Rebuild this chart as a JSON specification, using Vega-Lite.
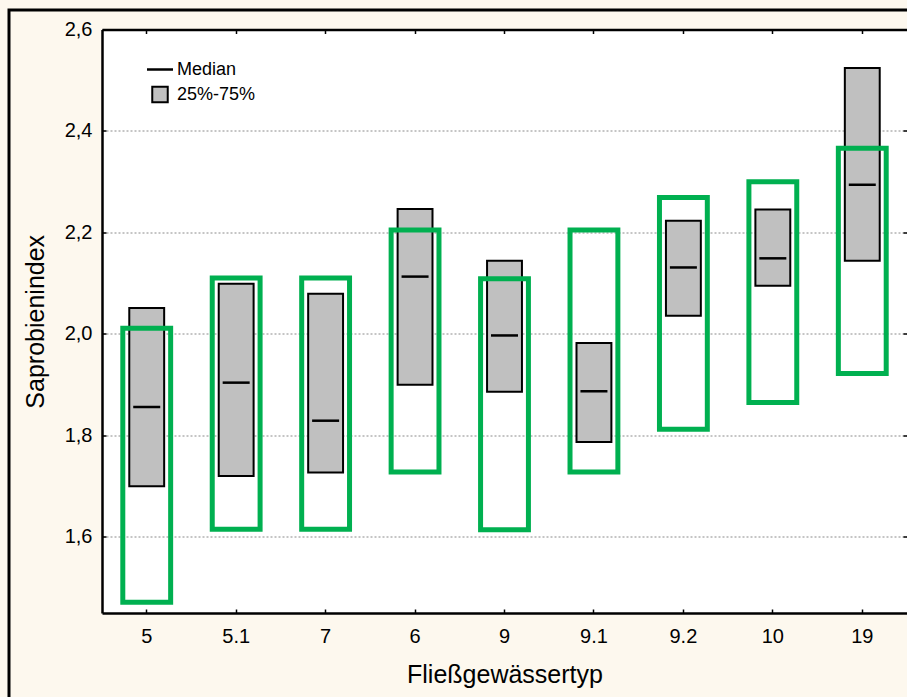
{
  "$schema": "https://vega.github.io/schema/vega-lite/v6.json",
  "width": 805,
  "height": 583.5,
  "autosize": "none",
  "padding": {"left": 102, "top": 29.5, "right": 0, "bottom": 84},
  "background": "#FDF8EE",
  "config": {
    "view": {"stroke": null, "fill": "white"},
    "font": "Liberation Sans",
    "legend": {"strokeWidth": 3},
    "axis": {
      "labelFont": "Liberation Sans",
      "labelFontSize": 20,
      "labelColor": "black",
      "titleFont": "Liberation Sans",
      "titleFontSize": 25,
      "titleFontWeight": "normal",
      "titleColor": "black",
      "tickColor": "black",
      "tickWidth": 1.5,
      "tickSize": -4,
      "domainColor": "black",
      "domainWidth": 2.5,
      "labelPadding": 14,
      "gridColor": "#8a8a8a",
      "gridDash": [2, 2],
      "gridWidth": 1
    }
  },
  "data": {
    "values": [
      {"typ": "5", "q25": 1.700, "q75": 2.051, "median": 1.856, "ref_lo": 1.471, "ref_hi": 2.011},
      {"typ": "5.1", "q25": 1.720, "q75": 2.099, "median": 1.904, "ref_lo": 1.615, "ref_hi": 2.110},
      {"typ": "7", "q25": 1.727, "q75": 2.079, "median": 1.829, "ref_lo": 1.615, "ref_hi": 2.110},
      {"typ": "6", "q25": 1.900, "q75": 2.246, "median": 2.113, "ref_lo": 1.728, "ref_hi": 2.205},
      {"typ": "9", "q25": 1.886, "q75": 2.144, "median": 1.997, "ref_lo": 1.614, "ref_hi": 2.109},
      {"typ": "9.1", "q25": 1.787, "q75": 1.982, "median": 1.887, "ref_lo": 1.728, "ref_hi": 2.205},
      {"typ": "9.2", "q25": 2.036, "q75": 2.223, "median": 2.131, "ref_lo": 1.812, "ref_hi": 2.269},
      {"typ": "10", "q25": 2.095, "q75": 2.245, "median": 2.149, "ref_lo": 1.865, "ref_hi": 2.300},
      {"typ": "19", "q25": 2.144, "q75": 2.524, "median": 2.294, "ref_lo": 1.922, "ref_hi": 2.366}
    ]
  },
  "layer": [
    {
      "mark": {"type": "bar", "stroke": "black", "strokeWidth": 2, "width": {"band": 0.39}},
      "encoding": {
        "x": {
          "field": "typ",
          "type": "nominal",
          "sort": ["5", "5.1", "7", "6", "9", "9.1", "9.2", "10", "19"],
          "scale": {"paddingInner": 0, "paddingOuter": 0},
          "axis": {"orient": "bottom", "title": "Fließgewässertyp", "labelAngle": 0, "labelPadding": 17, "titlePadding": 16, "grid": false}
        },
        "y": {
          "field": "q25",
          "type": "quantitative",
          "scale": {"domain": [1.45, 2.6], "nice": false, "zero": false},
          "axis": {
            "orient": "left",
            "title": "Saprobienindex",
            "values": [1.6, 1.8, 2.0, 2.2, 2.4, 2.6],
            "labelExpr": "replace(format(datum.value, '.1f'), '.', ',')",
            "grid": true,
            "titlePadding": 16
          }
        },
        "y2": {"field": "q75"},
        "fill": {
          "datum": "25%-75%",
          "type": "nominal",
          "scale": {"domain": ["Median", "25%-75%"], "range": ["black", "#c0c0c0"]},
          "legend": {
            "orient": "none",
            "legendX": 49,
            "legendY": 31,
            "padding": 0,
            "title": null,
            "labelFont": "Liberation Sans",
            "labelFontSize": 18,
            "labelColor": "black",
            "labelOffset": 8,
            "rowPadding": 4,
            "symbolType": {"expr": "datum.value === 'Median' ? 'stroke' : 'square'"},
            "symbolSize": {"expr": "datum.value === 'Median' ? 676 : 240"},
            "symbolStrokeColor": "black",
            "symbolStrokeWidth": {"expr": "datum.value === 'Median' ? 2.5 : 2"},
            "symbolOpacity": 1
          }
        }
      }
    },
    {
      "mark": {"type": "tick", "color": "black", "size": 27, "thickness": 2.5, "opacity": 1},
      "encoding": {
        "x": {"field": "typ", "type": "nominal", "sort": ["5", "5.1", "7", "6", "9", "9.1", "9.2", "10", "19"], "axis": null},
        "y": {"field": "median", "type": "quantitative", "axis": null}
      }
    },
    {
      "mark": {"type": "bar", "fillOpacity": 0, "stroke": "#00B050", "strokeWidth": 5, "width": {"band": 0.535}},
      "encoding": {
        "x": {
          "field": "typ",
          "type": "nominal",
          "sort": ["5", "5.1", "7", "6", "9", "9.1", "9.2", "10", "19"],
          "axis": {"orient": "top", "labels": false, "title": null, "grid": false}
        },
        "y": {
          "field": "ref_lo",
          "type": "quantitative",
          "axis": {"orient": "right", "labels": false, "title": null, "grid": false, "domain": false, "values": [1.6, 1.8, 2.0, 2.2, 2.4, 2.6]}
        },
        "y2": {"field": "ref_hi"},
        "opacity": {
          "datum": "frame",
          "type": "ordinal",
          "scale": {"domain": ["frame"], "range": [1]},
          "legend": {
            "orient": "none",
            "legendX": -93,
            "legendY": -19.5,
            "padding": 900,
            "title": null,
            "strokeColor": "black",
            "labelExpr": "''",
            "symbolOpacity": 0
          }
        }
      }
    }
  ],
  "resolve": {"axis": {"x": "independent", "y": "independent"}}
}
